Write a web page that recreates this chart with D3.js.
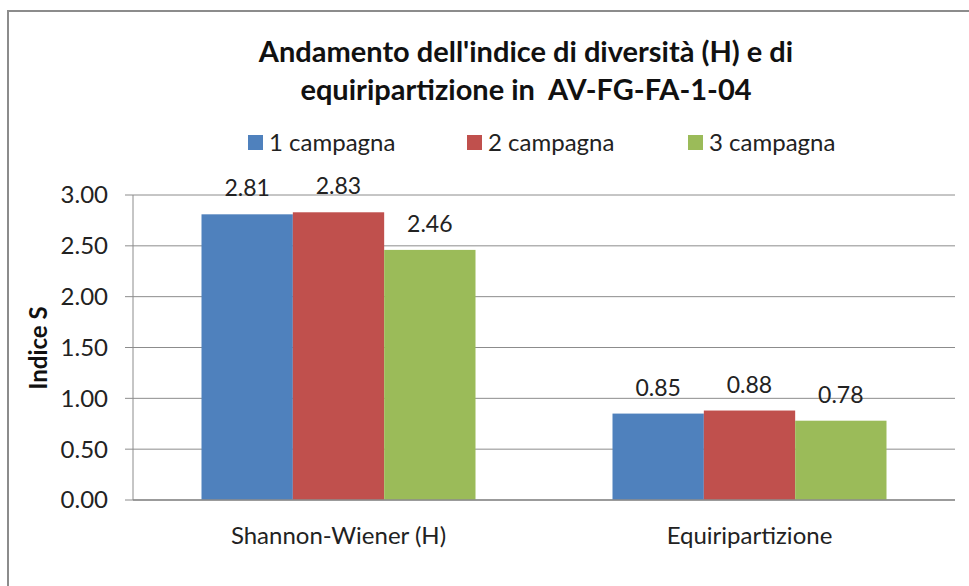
<!DOCTYPE html>
<html><head><meta charset="utf-8">
<script src="https://cdn.jsdelivr.net/npm/d3@7"></script>
<style>
html,body{margin:0;padding:0;background:#fff;}
svg{display:block;font-family:Lato, "Open Sans", sans-serif;}
text{white-space:pre;}
</style></head>
<body>
<svg id="c" width="969" height="586"></svg>
<script>
const categories = ["Shannon-Wiener (H)", "Equiripartizione"];
const seriesNames = ["1 campagna", "2 campagna", "3 campagna"];
const seriesColors = ["#4F81BD", "#C0504D", "#9BBB59"];
const campagna1 = [2.81, 0.85];
const campagna2 = [2.83, 0.88];
const campagna3 = [2.46, 0.78];
const yTicks = [0, 0.5, 1.0, 1.5, 2.0, 2.5, 3.0];
const titleLines = ["Andamento dell'indice di diversità (H) e di", "equiripartizione in  AV-FG-FA-1-04"];
const yTitle = "Indice S";

const values = [campagna1, campagna2, campagna3];
const svg = d3.select("#c");

// frame
svg.append("path").attr("d", "M8,586 L8,11 L969,11").attr("fill","none").attr("stroke","#8c8c8c").attr("stroke-width",2);

const plot = {l:133, r:955, t:195, b:500};
const x0 = d3.scaleBand().domain(categories).range([plot.l, plot.r]).paddingInner(0).paddingOuter(0);
const x1 = d3.scaleBand().domain(seriesNames).range([0, x0.bandwidth()]).paddingInner(0).paddingOuter(0.75);
const y = d3.scaleLinear().domain([0,3]).range([plot.b, plot.t]);

// gridlines
svg.append("g").selectAll("line").data(yTicks).join("line")
  .attr("x1", plot.l - 8).attr("x2", plot.r)
  .attr("y1", d=>y(d)).attr("y2", d=>y(d))
  .attr("stroke", "#8c8c8c").attr("stroke-width", 1);
// y axis line
svg.append("line").attr("x1",plot.l).attr("x2",plot.l).attr("y1",plot.t).attr("y2",plot.b).attr("stroke","#8c8c8c");

// y tick labels
svg.append("g").selectAll("text").data(yTicks).join("text")
  .attr("x", 108).attr("y", d=>y(d)).attr("dy","0.35em")
  .attr("text-anchor","end").attr("font-size",24).attr("fill","#222")
  .text(d=>d3.format(".2f")(d));

// bars
const groups = svg.append("g").selectAll("g").data(seriesNames).join("g")
  .attr("fill", (d,i)=>seriesColors[i]);
groups.selectAll("rect").data((s,i)=>categories.map((c,j)=>({c, s, v: values[i][j]}))).join("rect")
  .attr("x", d=>x0(d.c)+x1(d.s)).attr("width", x1.bandwidth())
  .attr("y", d=>y(d.v)).attr("height", d=>y(0)-y(d.v));

// baseline axis
svg.append("line").attr("x1",plot.l).attr("x2",plot.r).attr("y1",plot.b).attr("y2",plot.b).attr("stroke","#8c8c8c").attr("stroke-width",1.5);

// data labels
seriesNames.forEach((s,i)=>{
  svg.append("g").selectAll("text").data(categories.map((c,j)=>({c, v: values[i][j]}))).join("text")
    .attr("x", d=>x0(d.c)+x1(s)+x1.bandwidth()/2).attr("y", d=>y(d.v)-18)
    .attr("text-anchor","middle").attr("font-size",23).attr("fill","#222")
    .text(d=>d3.format(".2f")(d.v));
});

// category labels
svg.append("g").selectAll("text").data(categories).join("text")
  .attr("x", d=>x0(d)+x0.bandwidth()/2).attr("y", 544)
  .attr("text-anchor","middle").attr("font-size",24).attr("fill","#222")
  .text(d=>d);

// y title
svg.append("text").attr("transform","translate(47,348) rotate(-90)")
  .attr("text-anchor","middle").attr("font-size",24).attr("font-weight","bold").attr("fill","#111")
  .text(yTitle);

// title
svg.append("g").selectAll("text").data(titleLines).join("text")
  .attr("x", 526).attr("y", (d,i)=>62 + i*38)
  .attr("text-anchor","middle").attr("font-size",29).attr("font-weight","bold").attr("fill","#111")
  .text(d=>d);

// legend
const legX = [248, 467, 688];
const leg = svg.append("g").selectAll("g").data(seriesNames).join("g")
  .attr("transform",(d,i)=>`translate(${legX[i]},135)`);
leg.append("rect").attr("width",15).attr("height",15).attr("fill",(d,i)=>seriesColors[i]);
leg.append("text").attr("x",21).attr("y",16).attr("font-size",24).attr("fill","#222").text(d=>d);
</script>
</body></html>
